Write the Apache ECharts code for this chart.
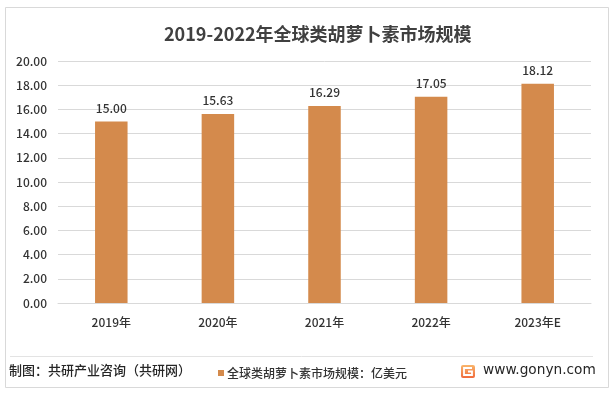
<!DOCTYPE html>
<html>
<head>
<meta charset="utf-8">
<script src="https://cdn.jsdelivr.net/npm/echarts@6/dist/echarts.min.js"></script>
<style>
html,body{margin:0;padding:0;background:#fff;}
#chart{width:614px;height:396px;}
</style>
</head>
<body>
<div id="chart"></div>
<script>
const categories = ['2019年', '2020年', '2021年', '2022年', '2023年E'];
const values = [15.00, 15.63, 16.29, 17.05, 18.12];
const seriesName = '全球类胡萝卜素市场规模：亿美元';
const titleText = '2019-2022年全球类胡萝卜素市场规模';
const sourceText = '制图：共研产业咨询（共研网）';
const siteText = 'www.gonyn.com';

const FONT = '"Noto Sans CJK SC", "Noto Sans", sans-serif';
const chart = echarts.init(document.getElementById('chart'), null, {renderer: 'canvas'});

chart.setOption({
  backgroundColor: '#ffffff',
  animation: false,
  textStyle: {fontFamily: FONT},
  title: {
    text: titleText,
    left: 159,
    top: 20,
    textStyle: {fontSize: 18, fontWeight: 'bold', color: '#404040', fontFamily: FONT}
  },
  legend: {
    data: [seriesName],
    left: 213,
    top: 362,
    itemWidth: 6,
    itemHeight: 6,
    itemGap: 4,
    icon: 'rect',
    textStyle: {fontSize: 12, fontWeight: 500, color: '#333333', fontFamily: FONT, padding: [0, 0, 0, -2]}
  },
  grid: {left: 58, right: 23, top: 61, bottom: 93, containLabel: false},
  xAxis: {
    type: 'category',
    data: categories,
    axisLine: {lineStyle: {color: '#d9d9d9'}},
    axisTick: {show: false},
    axisLabel: {color: '#333333', fontSize: 12, fontWeight: 500, margin: 13, fontFamily: FONT}
  },
  yAxis: {
    type: 'value',
    min: 0,
    max: 20,
    interval: 2,
    axisLine: {show: false},
    axisTick: {show: false},
    splitLine: {lineStyle: {color: '#d9d9d9'}},
    axisLabel: {color: '#333333', fontSize: 12, fontWeight: 500, margin: 11, fontFamily: FONT,
      formatter: v => v.toFixed(2)}
  },
  series: [{
    name: seriesName,
    type: 'bar',
    data: values,
    barWidth: '30.5%',
    itemStyle: {color: '#D48A4C'},
    label: {
      show: true,
      position: 'top',
      distance: 7,
      color: '#333333',
      fontSize: 12,
      fontWeight: 500,
      fontFamily: FONT,
      formatter: p => p.value.toFixed(2)
    }
  }],
  graphic: [
    {type: 'rect', shape: {x: 5.5, y: 7.5, width: 603, height: 380},
      style: {fill: 'none', stroke: '#d9d9d9', lineWidth: 1}, z: -1},
    {type: 'line', shape: {x1: 10, y1: 356.5, x2: 593, y2: 356.5},
      style: {stroke: '#e3e3e3', lineWidth: 1}},
    {type: 'text', left: 9, top: 364,
      style: {text: sourceText, fontSize: 13, fontWeight: 500, fill: '#262626', fontFamily: FONT}},
    {type: 'rect', shape: {x: 461, y: 365, width: 14, height: 13, r: 2},
      style: {fill: new echarts.graphic.LinearGradient(0, 0, 0, 1, [
        {offset: 0, color: '#F9B56B'}, {offset: 1, color: '#F06A3C'}])}},
    {type: 'polyline', shape: {points: [[472, 368], [464, 368], [464, 375], [472, 375], [472, 371.5], [468, 371.5]]},
      style: {stroke: '#ffffff', lineWidth: 1.8, fill: 'none'}},
    {type: 'text', left: 483, top: 363,
      style: {text: siteText, fontSize: 13.7, fill: '#262626', fontFamily: '"DejaVu Sans", "Noto Sans", sans-serif'}}
  ]
});
</script>
</body>
</html>
